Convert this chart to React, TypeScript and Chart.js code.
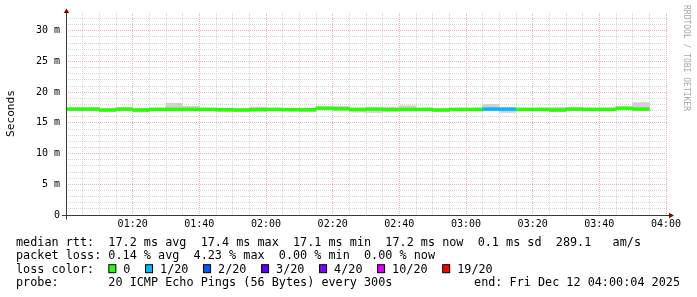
import React, { useEffect, useRef } from 'react';
import { Chart, registerables } from 'chart.js';

Chart.register(...registerables);

// ---- data ----
const slotStarts = [
  '01:00', '01:05', '01:10', '01:15', '01:20', '01:25', '01:30', '01:35', '01:40', '01:45',
  '01:50', '01:55', '02:00', '02:05', '02:10', '02:15', '02:20', '02:25', '02:30', '02:35',
  '02:40', '02:45', '02:50', '02:55', '03:00', '03:05', '03:10', '03:15', '03:20', '03:25',
  '03:30', '03:35', '03:40', '03:45', '03:50',
];
const medianMs = [
  17.25, 17.25, 17.1, 17.25, 17.1, 17.2, 17.2, 17.2, 17.2, 17.15,
  17.1, 17.15, 17.2, 17.15, 17.15, 17.4, 17.3, 17.2, 17.25, 17.15,
  17.2, 17.2, 17.1, 17.2, 17.2, 17.25, 17.25, 17.2, 17.2, 17.1,
  17.25, 17.2, 17.2, 17.4, 17.25,
];
const smokeLowMs = [
  17.05, 17.05, 16.9, 17.05, 16.75, 17.0, 17.0, 17.0, 17.0, 16.8,
  16.9, 16.95, 17.0, 16.95, 16.8, 17.2, 17.1, 16.75, 16.7, 16.95,
  17.0, 17.0, 16.9, 17.0, 17.0, 17.05, 16.7, 17.0, 17.0, 16.9,
  17.05, 17.0, 17.0, 17.2, 17.05,
];
const smokeHighMs = [
  17.45, 17.45, 17.3, 17.45, 17.3, 17.4, 18.2, 17.7, 17.4, 17.35,
  17.3, 17.6, 17.4, 17.35, 17.35, 17.6, 17.7, 17.4, 17.45, 17.6,
  17.8, 17.4, 17.3, 17.4, 17.4, 18.0, 17.45, 17.4, 17.4, 17.55,
  17.45, 17.4, 17.4, 17.6, 18.3,
];
const lostPings = [
  0, 0, 0, 0, 0, 0, 0, 0, 0, 0,
  0, 0, 0, 0, 0, 0, 0, 0, 0, 0,
  0, 0, 0, 0, 0, 1, 1, 0, 0, 0,
  0, 0, 0, 0, 0,
];
const slotMinutes = 5;
const axisStart = '01:00';
const axisEnd = '04:00';
const yMaxMs = 32.9;
const yTickValuesMs = [0, 5, 10, 15, 20, 25, 30];
const yTickLabels = ['0', '5 m', '10 m', '15 m', '20 m', '25 m', '30 m'];
const xTickLabels = ['01:20', '01:40', '02:00', '02:20', '02:40', '03:00', '03:20', '03:40', '04:00'];
const lossLabels = ['0', '1/20', '2/20', '3/20', '4/20', '10/20', '19/20'];
const lossThresholds = [0, 1, 2, 3, 4, 10, 19];
const lossColors = ['#26ff00', '#00b8ff', '#0059ff', '#5e00ff', '#7e00ff', '#dd00ff', '#ff0000'];
const statLines = [
  'median rtt:  17.2 ms avg  17.4 ms max  17.1 ms min  17.2 ms now  0.1 ms sd  289.1   am/s',
  'packet loss: 0.14 % avg  4.23 % max  0.00 % min  0.00 % now',
];
const lossTitle = 'loss color:';
const probeLine = 'probe:       20 ICMP Echo Pings (56 Bytes) every 300s';
const endLine = 'end: Fri Dec 12 04:00:04 2025';
const yTitle = 'Seconds';
const watermark = 'RRDTOOL / TOBI OETIKER';

// ---- helpers ----
const toMin = (t: string) => {
  const [h, m] = t.split(':').map(Number);
  const [h0, m0] = axisStart.split(':').map(Number);
  return h * 60 + m - (h0 * 60 + m0);
};
const lossColor = (lost: number) => {
  let c = lossColors[0];
  lossThresholds.forEach((th, i) => { if (lost >= th) c = lossColors[i]; });
  return c;
};
const MEDIAN_HALF = 0.23;
const MONO = '"DejaVu Sans Mono", "Liberation Mono", monospace';

const rrdPlugin = {
  id: 'rrdDecor',
  beforeDatasetsDraw(chart: any) {
    const { ctx, chartArea: a, scales } = chart;
    const x = scales.x, y = scales.y;
    const xMax = toMin(axisEnd);
    ctx.save();
    ctx.lineWidth = 1;
    ctx.setLineDash([1, 1]);
    const passes = [
      { major: false, color: '#d6d6d6' },
      { major: true, color: '#eeb2b2' },
    ];
    for (const p of passes) {
      ctx.strokeStyle = p.color;
      ctx.beginPath();
      for (let m = slotMinutes; m <= xMax; m += slotMinutes) {
        const isMajor = m % 20 === 0;
        if (isMajor !== p.major) continue;
        const px = Math.floor(x.getPixelForValue(m)) + 0.5;
        ctx.moveTo(px, a.top);
        ctx.lineTo(px, a.bottom);
      }
      for (let v = 1; v <= Math.floor(yMaxMs); v += 1) {
        const isMajor = v % 5 === 0;
        if (isMajor !== p.major) continue;
        const py = Math.floor(y.getPixelForValue(v)) + 0.5;
        ctx.moveTo(a.left, py);
        ctx.lineTo(a.right + 2, py);
      }
      ctx.stroke();
    }
    ctx.restore();
  },
  afterDraw(chart: any) {
    const { ctx, chartArea: a, scales } = chart;
    const x = scales.x, y = scales.y;
    ctx.save();
    // axes
    const ax = Math.floor(x.getPixelForValue(0)) + 0.5;
    const ay = Math.floor(y.getPixelForValue(0)) + 0.5;
    ctx.strokeStyle = '#3a3a3a';
    ctx.lineWidth = 1;
    ctx.beginPath();
    ctx.moveTo(a.left - 4, ay);
    ctx.lineTo(a.right + 3, ay);
    ctx.moveTo(ax, ay + 4);
    ctx.lineTo(ax, a.top);
    ctx.stroke();
    // arrows
    ctx.fillStyle = '#7f0000';
    ctx.beginPath();
    ctx.moveTo(ax, a.top - 4.5);
    ctx.lineTo(ax - 2.7, a.top);
    ctx.lineTo(ax + 2.7, a.top);
    ctx.closePath();
    ctx.fill();
    ctx.beginPath();
    ctx.moveTo(a.right + 8, ay);
    ctx.lineTo(a.right + 3, ay - 2.7);
    ctx.lineTo(a.right + 3, ay + 2.7);
    ctx.closePath();
    ctx.fill();

    // y title
    ctx.fillStyle = '#000';
    ctx.font = `11.2px ${MONO}`;
    ctx.save();
    ctx.translate(11, 113.5);
    ctx.rotate(-Math.PI / 2);
    ctx.textAlign = 'center';
    ctx.textBaseline = 'middle';
    ctx.fillText(yTitle, 0, 0);
    ctx.restore();

    // watermark
    ctx.save();
    ctx.fillStyle = '#a8a8a8';
    ctx.font = `8px ${MONO}`;
    ctx.translate(686, 5);
    ctx.rotate(Math.PI / 2);
    ctx.textAlign = 'left';
    ctx.textBaseline = 'middle';
    ctx.fillText(watermark, 0, 0);
    ctx.restore();

    // legend / statistics
    ctx.fillStyle = '#000';
    ctx.font = `11.8px ${MONO}`;
    ctx.textAlign = 'left';
    ctx.textBaseline = 'alphabetic';
    const left = 16;
    const rows = [245.5, 259, 272.7, 286.3];
    ctx.fillText(statLines[0], left, rows[0]);
    ctx.fillText(statLines[1], left, rows[1]);
    ctx.fillText(lossTitle, left, rows[2]);
    const cw = ctx.measureText('0').width;
    let bx = left + 13 * cw;
    lossLabels.forEach((lab, i) => {
      ctx.fillStyle = lossColors[i];
      ctx.fillRect(bx + 0.5, rows[2] - 8, 7, 8);
      ctx.strokeStyle = '#000';
      ctx.lineWidth = 1;
      ctx.strokeRect(bx + 0.5, rows[2] - 8, 7, 8);
      ctx.fillStyle = '#000';
      const lx = bx + 15;
      ctx.fillText(lab, lx, rows[2]);
      bx = lx + ctx.measureText(lab).width + 2 * cw + 0.4;
    });
    ctx.fillText(probeLine, left, rows[3]);
    ctx.textAlign = 'right';
    ctx.fillText(endLine, 680, rows[3]);
    ctx.restore();
  },
};

export default function App() {
  const ref = useRef<HTMLCanvasElement | null>(null);
  useEffect(() => {
    document.body.style.margin = '0';
    const canvas = ref.current!;
    const mid = (t: string) => toMin(t) + slotMinutes / 2;
    const chart = new Chart(canvas, {
      type: 'bar',
      data: {
        datasets: [
          {
            label: 'median',
            data: slotStarts.map((t, i) => ({ x: mid(t), y: [medianMs[i] - MEDIAN_HALF, medianMs[i] + MEDIAN_HALF] })) as any,
            backgroundColor: lostPings.map(lossColor),
            borderWidth: 0,
            grouped: false,
            barPercentage: 1,
            categoryPercentage: 1,
            order: 0,
          },
          {
            label: 'smoke',
            data: slotStarts.map((t, i) => ({ x: mid(t), y: [smokeLowMs[i], smokeHighMs[i]] })) as any,
            backgroundColor: '#d0d0d0',
            borderWidth: 0,
            grouped: false,
            barPercentage: 1,
            categoryPercentage: 1,
            order: 1,
          },
        ],
      },
      options: {
        animation: false,
        responsive: false,
        devicePixelRatio: 1,
        layout: { padding: { top: 13, right: 31, left: 0, bottom: 0 } },
        plugins: { legend: { display: false }, tooltip: { enabled: false }, title: { display: false } },
        scales: {
          x: {
            type: 'linear',
            min: 0,
            max: toMin(axisEnd),
            offset: false,
            grid: { display: false, drawTicks: false, offset: false },
            border: { display: false },
            afterFit: (s: any) => { s.height = 82; },
            afterBuildTicks: (s: any) => { s.ticks = xTickLabels.map((l) => ({ value: toMin(l) })); },
            ticks: {
              autoSkip: false,
              maxRotation: 0,
              padding: 3,
              color: '#000',
              font: { family: MONO, size: 10 },
              callback: (_v: any, i: number) => xTickLabels[i],
            },
          },
          y: {
            type: 'linear',
            min: 0,
            max: yMaxMs,
            grid: { display: false, drawTicks: false },
            border: { display: false },
            afterFit: (s: any) => { s.width = 66; },
            afterBuildTicks: (s: any) => { s.ticks = yTickValuesMs.map((v) => ({ value: v })); },
            ticks: {
              autoSkip: false,
              padding: 6,
              color: '#000',
              font: { family: MONO, size: 10 },
              callback: (_v: any, i: number) => yTickLabels[i],
            },
          },
        },
      },
      plugins: [rrdPlugin],
    });
    return () => chart.destroy();
  }, []);
  return (
    <canvas ref={ref} width={697} height={297} style={{ display: 'block', width: 697, height: 297 }} />
  );
}
